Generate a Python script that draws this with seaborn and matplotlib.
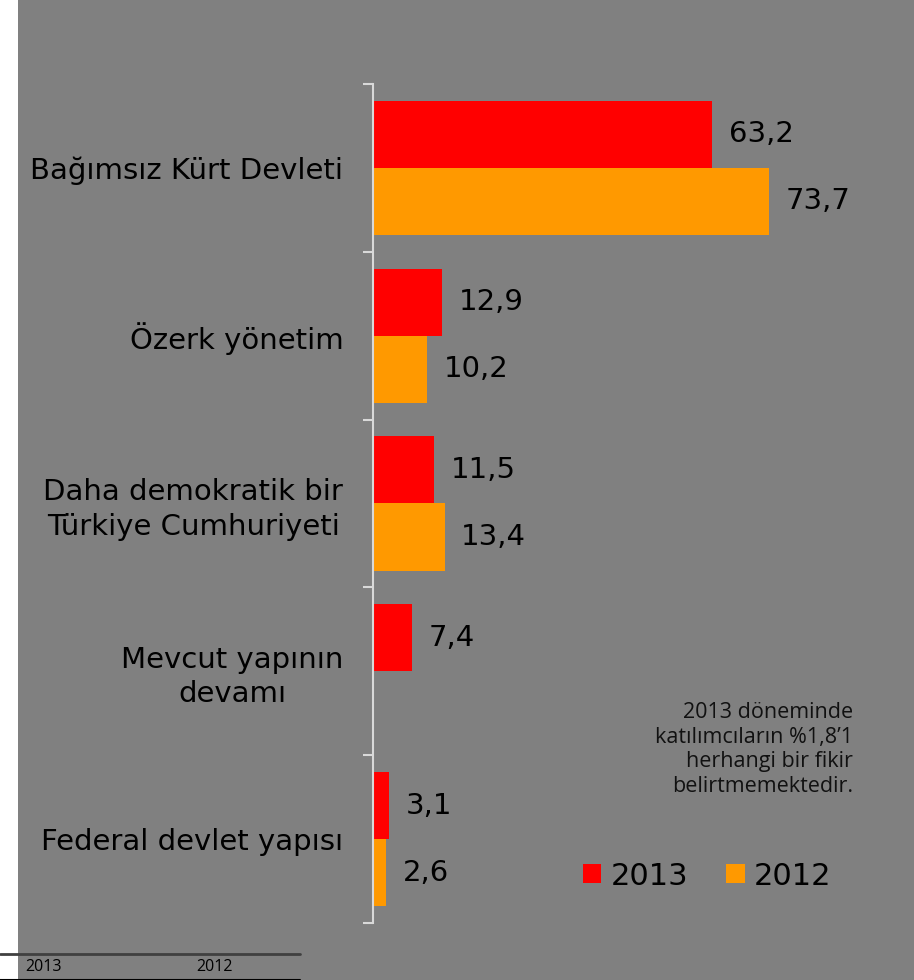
import numpy as np
import pandas as pd
import matplotlib
matplotlib.use("Agg")
import matplotlib.pyplot as plt
from matplotlib.patches import Rectangle
from matplotlib.lines import Line2D
import seaborn as sns

categories = ["Bağımsız Kürt Devleti", "Özerk yönetim",
              "Daha demokratik bir\nTürkiye Cumhuriyeti",
              "Mevcut yapının\ndevamı", "Federal devlet yapısı"]
values_2013 = [63.2, 12.9, 11.5, 7.4, 3.1]
values_2012 = [73.7, 10.2, 13.4, np.nan, 2.6]
series = ["2013", "2012"]
colors = ["#FF0000", "#FF9900"]
note = "2013 döneminde\nkatılımcıların %1,8’1\nherhangi bir fikir\nbelirtmemektedir."

df = pd.DataFrame({
    "cat": categories * 2,
    "val": values_2013 + values_2012,
    "year": [series[0]] * len(categories) + [series[1]] * len(categories),
})

sns.set_style("white")
plt.rcParams["font.family"] = ["DejaVu Sans"]

W, H = 914, 980
fig = plt.figure(figsize=(W / 100, H / 100), dpi=100, facecolor="white")
fig.add_artist(Rectangle((18 / W, 0), 1, 1, transform=fig.transFigure,
                         facecolor="#808080", edgecolor="none", zorder=-10))

ax = fig.add_axes([372.5 / W, (H - 923) / H, (910 - 372.5) / W, (923 - 84) / H])
ax.set_facecolor("none")

sns.barplot(data=df, y="cat", x="val", hue="year", hue_order=series,
            palette=colors, orient="h", width=0.8, saturation=1,
            ax=ax, errorbar=None, dodge=True, linewidth=0, edgecolor="none")

ax.set_xlim(0, 100)
ax.set_ylim(4.5, -0.5)
ax.set_xlabel("")
ax.set_ylabel("")
ax.xaxis.set_visible(False)
for s in ["top", "right", "bottom"]:
    ax.spines[s].set_visible(False)
ax.spines["left"].set_color("#d9d9d9")
ax.spines["left"].set_linewidth(1.5)

ax.set_yticks(range(len(categories)))
ax.set_yticklabels(categories, fontsize=21, color="black", linespacing=1.28)
for lab in ax.get_yticklabels():
    lab.set_multialignment("center")
ax.tick_params(axis="y", which="major", length=0, pad=21)
ax.set_yticks(np.arange(-0.5, len(categories), 1.0), minor=True)
ax.tick_params(axis="y", which="minor", length=7.2, width=1.5, color="#d9d9d9", left=True)

for cont in ax.containers:
    labels = []
    for p in cont.patches:
        w = p.get_width()
        labels.append("" if not np.isfinite(w) else f"{w:.1f}".replace(".", ","))
    ax.bar_label(cont, labels=labels, padding=12, fontsize=21, color="black")

sns.move_legend(ax, loc="center left", bbox_to_anchor=(583 / W, (H - 876) / H),
                bbox_transform=fig.transFigure, ncol=2, title=None, frameon=False,
                fontsize=22, handlelength=0.6, handleheight=0.6, handletextpad=0.3,
                columnspacing=1.25, borderpad=0, borderaxespad=0, labelcolor="black")
for h in ax.get_legend().legend_handles:
    h.set_edgecolor("none")
    h.set_linewidth(0)

fig.text(853 / W, (H - 749.5) / H, note, ha="right", va="center", multialignment="right",
         fontsize=15.5, family=["Open Sans", "DejaVu Sans"], color="#111111", linespacing=1.22)

# bottom table fragment
fig.add_artist(Line2D([0, 300 / W], [(H - 954) / H] * 2, transform=fig.transFigure,
                      color="#404040", linewidth=2))
fig.add_artist(Line2D([0, 300 / W], [(H - 979.5) / H] * 2, transform=fig.transFigure,
                      color="black", linewidth=1.5))
fig.text(25 / W, (H - 967) / H, "2013", ha="left", va="center", fontsize=11.5,
         family=["Open Sans", "DejaVu Sans"], color="black")
fig.text(196 / W, (H - 967) / H, "2012", ha="left", va="center", fontsize=11.5,
         family=["Open Sans", "DejaVu Sans"], color="black")

fig.savefig("out.png", dpi=100, facecolor="white")
